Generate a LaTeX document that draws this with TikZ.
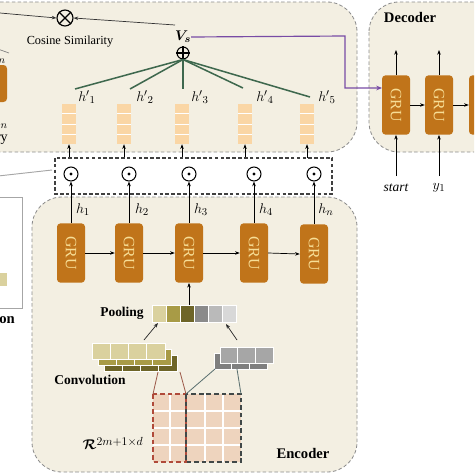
\documentclass[tikz,border=0pt]{standalone}
\usepackage{fontspec}
\setmainfont{Liberation Serif}
\usepackage{amsmath,bm}
\usetikzlibrary{arrows.meta,calc}
\definecolor{cream}{RGB}{243,239,226}
\definecolor{gruf}{RGB}{192,116,26}
\definecolor{grut}{RGB}{247,222,150}
\definecolor{grn}{RGB}{62,104,78}
\definecolor{purp}{RGB}{120,75,165}
\definecolor{vecc}{RGB}{250,214,165}
\definecolor{panelb}{RGB}{140,140,140}
\definecolor{olA}{RGB}{218,209,158}
\definecolor{olB}{RGB}{168,155,70}
\definecolor{olC}{RGB}{110,101,40}
\definecolor{grA}{RGB}{138,138,138}
\definecolor{grB}{RGB}{186,186,186}
\definecolor{grC}{RGB}{216,216,216}
\definecolor{grTop}{RGB}{166,166,166}
\definecolor{grBack}{RGB}{127,127,127}
\definecolor{tanc}{RGB}{238,212,190}
\definecolor{redd}{RGB}{176,74,58}
\definecolor{slate}{RGB}{64,72,72}
\definecolor{brownl}{RGB}{156,90,74}
\definecolor{slatel}{RGB}{90,112,112}
\begin{document}
\begin{tikzpicture}[x=0.03cm,y=-0.03cm,
  panel/.style={fill=cream, draw=panelb, densely dashed, line width=0.7pt, rounded corners=0.9cm},
  gru/.style={fill=gruf, draw=none, rounded corners=3pt, minimum width=0.84cm, minimum height=1.78cm, inner sep=0pt, text=grut, font=\fontsize{13.5}{15}\selectfont},
  arr/.style={-{Stealth[length=4pt,width=3pt]}, line width=0.6pt},
  odot/.style={circle, draw, line width=0.9pt, minimum size=0.42cm, inner sep=0pt},
  lab/.style={font=\fontsize{12.5}{14}\selectfont, inner sep=0pt},
  bold/.style={font=\bfseries\fontsize{12.5}{14}\selectfont, inner sep=0pt},
  vecbox/.style={fill=vecc, draw=none, minimum width=0.42cm, minimum height=1.2cm, inner sep=0pt},
  greenl/.style={draw=grn, line width=1.3pt},
  cell/.style={draw=white, line width=0.8pt}
]
\useasboundingbox (0,0) rectangle (474,474);
\clip (0,0) rectangle (474,474);

% panels
\draw[panel] (-60,2) rectangle (357,152);
\draw[panel] (369,2) rectangle (540,152);
\draw[panel] (32,197) rectangle (357,472);

% left fragments
\fill[gruf, rounded corners=3pt] (-20,65) rectangle (7,102);
\node[lab, anchor=east] (fhn) at (6,58) {$h_n$};
\node[lab, anchor=east] (fhpn) at (8,122) {${h'}_n$};
\node[anchor=east, inner sep=0pt, font=\fontsize{12}{14}\selectfont] (fq) at (8,138) {Query};
\draw[gray, line width=0.6pt] (-5,48) -- (9,53);
\draw[gray!70, line width=0.8pt] (-2,176) -- (52,170);
\draw[gray!70, fill=white, line width=0.8pt] (-10,197) rectangle (22,308);
\fill[olA] (-5,273) rectangle (7,286);
\node[bold, anchor=east] (fatt) at (15,318) {Attention};

% cosine similarity
\node[circle, draw, line width=1pt, minimum size=0.48cm, inner sep=0pt] (ot) at (65,18) {};
\draw[line width=1pt] (ot.north east) -- (ot.south west) (ot.north west) -- (ot.south east);
\node[inner sep=0pt, font=\fontsize{10.5}{12}\selectfont] (cs) at (70,42) {Cosine Similarity};
\coordinate (lin) at (0,13);
\draw[arr, gray!40!black] (lin) -- (ot.west);

\node[inner sep=0pt, font=\fontsize{13}{14}\selectfont] (vs) at (183,37) {$\bm{V_s}$};
\node[circle, draw, line width=0.9pt, minimum size=0.36cm, inner sep=0pt] (op) at (183,53) {};
\draw[line width=0.9pt] (op.north) -- (op.south) (op.east) -- (op.west);
\coordinate (vsa) at (175,25);
\draw[arr, gray!40!black] (vsa) -- (ot.east);

% attention vectors
\foreach \i/\x in {1/69,2/124,3/182,4/245,5/307}{
  \node[vecbox] (c\i) at (\x,124) {};
  \foreach \k in {1,2,3} \draw[white, line width=0.8pt] ($(c\i.north west)!\k/4!(c\i.south west)$) -- ($(c\i.north east)!\k/4!(c\i.south east)$);
  \coordinate (ca\i) at (\x,158);
  \draw[arr] (ca\i) -- (c\i.south);
}
% green lines
\foreach \i/\x/\y in {1/75/89,2/130/89,3/183/89,4/243/88,5/310/97}{
  \coordinate (g\i) at (\x,\y);
  \draw[greenl] (op.south) -- (g\i);
}
\node[lab] (hp1) at (87,97) {${h'}_1$};
\node[lab] (hp2) at (145,97) {${h'}_2$};
\node[lab] (hp3) at (200,97) {${h'}_3$};
\node[lab] (hp4) at (265,97) {${h'}_4$};
\node[lab] (hp5) at (327,97) {${h'}_5$};

% purple
\draw[draw=purp, line width=1pt, -{Stealth[length=5pt,width=4pt]}] (vs.east) -- (345,36) -- (345,88) -- (382,88);

% decoder
\node[bold] (dec) at (410,17) {Decoder};
\node[gru] (d1) at (396,105) {\rotatebox{-90}{GRU}};
\node[gru] (d2) at (439,105) {\rotatebox{-90}{GRU}};
\node[gru] (d3) at (483,105) {\rotatebox{-90}{GRU}};
\draw[arr] (d1.east) -- (d2.west);
\draw[arr] (d2.east) -- (d3.west);
\coordinate (t1) at (396,50);
\coordinate (t2) at (439,50);
\draw[arr] (d1.north) -- (t1);
\draw[arr] (d2.north) -- (t2);
\node[inner sep=0pt, font=\itshape\fontsize{11.5}{13}\selectfont] (st) at (396,188) {start};
\node[lab] (y1) at (439,188) {$y_1$};
\draw[arr] (396,176) -- (d1.south);
\draw[arr] (439,176) -- (d2.south);

% product row
\draw[draw=black!75, densely dashed, line width=0.9pt, fill=white] (55,158) rectangle (332,194);
\foreach \i/\x in {1/71,2/129,3/189,4/254,5/314}{
  \node[odot] (o\i) at (\x,174) {};
  \fill (o\i.center) circle (1.3pt);
}

% encoder GRUs
\node[gru] (e1) at (71,253) {\rotatebox{-90}{GRU}};
\node[gru] (e2) at (129,253) {\rotatebox{-90}{GRU}};
\node[gru] (e3) at (189,253) {\rotatebox{-90}{GRU}};
\node[gru] (e4) at (254,253) {\rotatebox{-90}{GRU}};
\node[gru] (e5) at (314,254) {\rotatebox{-90}{GRU}};
\draw[arr] (e1.east) -- (e2.west);
\draw[arr] (e2.east) -- (e3.west);
\draw[arr] (e3.east) -- (e4.west);
\draw[arr] (e4.east) -- (e5.west);
\foreach \i in {1,...,5} \draw[arr] (e\i.north) -- (o\i.south);
\node[lab] (h1) at (83,210) {$h_1$};
\node[lab] (h2) at (142,210) {$h_2$};
\node[lab] (h3) at (201,210) {$h_3$};
\node[lab] (h4) at (266,210) {$h_4$};
\node[lab] (hn) at (326,210) {$h_n$};

% pooling
\node[bold, font=\bfseries\fontsize{11.5}{13}\selectfont] (pool) at (122,313) {Pooling};
\foreach \i/\c in {0/olA,1/olB,2/olC,3/grA,4/grB,5/grC}{
  \fill[\c] ({152+14*\i},305) rectangle ({166+14*\i},322);
  \draw[cell] ({152+14*\i},305) rectangle ({166+14*\i},322);
}
\coordinate (pt) at (189,305);
\draw[arr] (pt) -- (e3.south);

% convolution stack
\foreach \l/\dx/\c in {2/12/olC,1/6/olB,0/0/olA}{
  \foreach \k in {0,...,3}{
    \fill[\c] ({92+\dx+18.25*\k},{343+\dx}) rectangle ({110.25+\dx+18.25*\k},{359+\dx});
    \draw[cell] ({92+\dx+18.25*\k},{343+\dx}) rectangle ({110.25+\dx+18.25*\k},{359+\dx});
  }
}
\node[bold, font=\bfseries\fontsize{11.5}{13}\selectfont] (conv) at (90,380) {Convolution};
% gray stack
\foreach \dx/\dy/\c in {-6/6/grBack,0/0/grTop}{
  \foreach \k in {0,1,2}{
    \fill[\c] ({220+\dx+17.7*\k},{347+\dy}) rectangle ({237.7+\dx+17.7*\k},{363+\dy});
    \draw[cell] ({220+\dx+17.7*\k},{347+\dy}) rectangle ({237.7+\dx+17.7*\k},{363+\dy});
  }
}
\coordinate (cva) at (144,340);
\coordinate (pa) at (158,323);
\draw[arr, gray!30!black] (cva) -- (pa);
\coordinate (gva) at (237,340);
\coordinate (pb) at (226,324);
\draw[arr, gray!30!black] (gva) -- (pb);

% matrix
\fill[tanc] (153,394) rectangle (241,462);
\foreach \x in {170,186,205,223} \draw[white, line width=0.9pt] (\x,394) -- (\x,462);
\foreach \y in {411,428,445} \draw[white, line width=0.9pt] (153,\y) -- (241,\y);
\draw[redd, dashed, line width=1.1pt, dash pattern=on 4pt off 2.5pt] (153,394) rectangle (186,462);
\draw[slate, dashed, line width=1.1pt, dash pattern=on 4pt off 2.5pt] (186,394) rectangle (241,462);
\draw[brownl, line width=0.7pt] (158,372) -- (153,394);
\draw[brownl, line width=0.7pt] (180,372) -- (186,394);
\draw[slatel, line width=0.7pt] (215,369) -- (186,394);
\draw[slatel, line width=0.7pt] (237,369) -- (241,394);
\node[inner sep=0pt, font=\fontsize{12}{14}\selectfont] (rr) at (113,443) {$\bm{\mathcal{R}}^{\raisebox{-0.3ex}{\fontsize{10}{12}\selectfont$2m{+}1{\times}d$}}$};

\node[bold] (enc) at (303,453) {Encoder};
\end{tikzpicture}
\end{document}
